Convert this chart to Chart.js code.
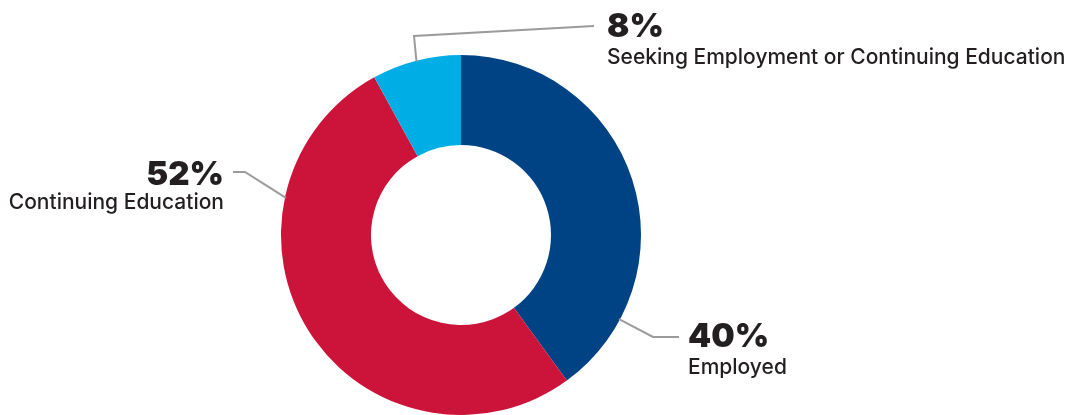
<!DOCTYPE html>
<html>
<head>
<meta charset="utf-8">
<script src="https://cdn.jsdelivr.net/npm/chart.js@4.4.1/dist/chart.umd.min.js"></script>
<style>
  html, body { margin: 0; padding: 0; background: #ffffff; }
  #wrap { position: relative; width: 1077px; height: 415px; }
</style>
</head>
<body>
<div id="wrap"><canvas id="c"></canvas></div>
<script>
// ---- Data ----
const categories = ['Employed', 'Continuing Education', 'Seeking Employment or Continuing Education'];
const percentages = [40, 52, 8];
const percentLabels = ['40%', '52%', '8%'];

// ---- Styles ----
const sliceColors = ['#004385', '#CC1339', '#00AEE6'];
const textColor = '#231F20';
const leaderColor = '#9B9B9B';

// Label layout: anchor angle on the ring (degrees clockwise from top), leader path, text placement
const labelLayout = [
  { angle: 118, path: [[653, 337], [679, 337]], tx: 688, align: 'left',  pctY: 347, catY: 374 },
  { angle: 282, path: [[245, 172], [233, 172]], tx: 224, align: 'right', pctY: 185, catY: 209 },
  { angle: 345.6, path: [[414, 36], [594, 26]], tx: 607, align: 'left',  pctY: 37,  catY: 64 }
];

const leaderPlugin = {
  id: 'leaders',
  afterDraw(chart) {
    const ctx = chart.ctx;
    const meta = chart.getDatasetMeta(0);
    ctx.save();
    meta.data.forEach((arc, i) => {
      const L = labelLayout[i];
      const a = (L.angle - 90) * Math.PI / 180;
      const r = arc.outerRadius - 1;
      const ax = arc.x + r * Math.cos(a);
      const ay = arc.y + r * Math.sin(a);
      ctx.beginPath();
      ctx.strokeStyle = leaderColor;
      ctx.lineWidth = 2;
      ctx.moveTo(ax, ay);
      L.path.forEach(p => ctx.lineTo(p[0], p[1]));
      ctx.stroke();

      ctx.fillStyle = textColor;
      ctx.textAlign = L.align;
      ctx.textBaseline = 'alphabetic';
      ctx.font = '900 33px Inter, "Open Sans", sans-serif';
      ctx.fillText(percentLabels[i], L.tx, L.pctY);
      ctx.font = '500 21px Inter, "Open Sans", sans-serif';
      ctx.fillText(categories[i], L.tx, L.catY);
    });
    ctx.restore();
  }
};

new Chart(document.getElementById('c'), {
  type: 'doughnut',
  data: {
    labels: categories,
    datasets: [{
      data: percentages,
      backgroundColor: sliceColors,
      borderWidth: 0,
      hoverOffset: 0,
      offset: 0
    }]
  },
  options: {
    responsive: true,
    maintainAspectRatio: false,
    animation: false,
    cutout: '50%',
    rotation: 0,
    layout: { padding: { top: 55, bottom: 0, left: 0, right: 155 } },
    plugins: {
      legend: { display: false },
      tooltip: { enabled: false }
    }
  },
  plugins: [leaderPlugin]
});
</script>
</body>
</html>
